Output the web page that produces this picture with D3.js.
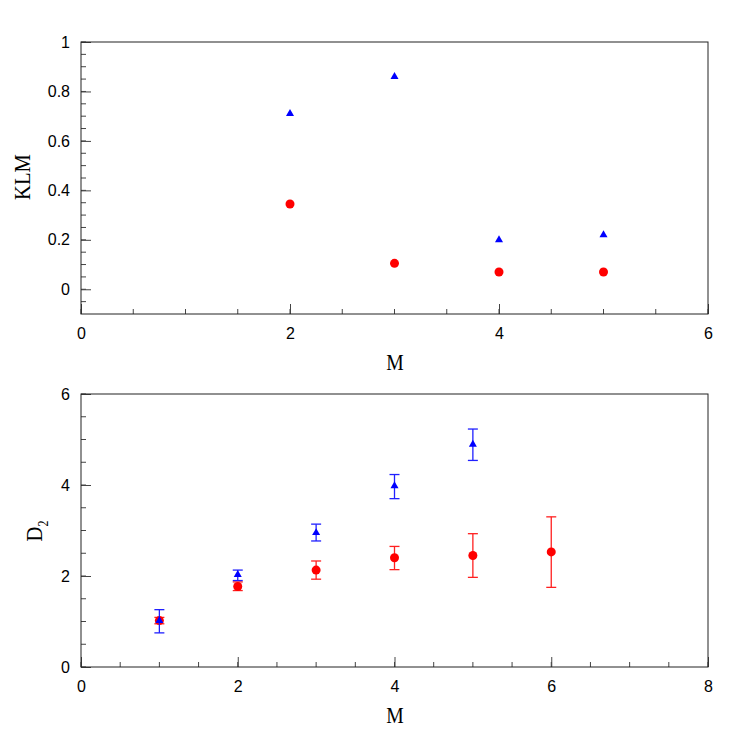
<!DOCTYPE html>
<html lang="en">
<head>
<meta charset="utf-8">
<title>KLM and D2 vs M</title>
<script src="https://d3js.org/d3.v7.min.js"></script>
<style>
  body { margin: 0; background: white; }
  .title { font-family: "Liberation Serif", "Times New Roman", serif; font-size: 24px; fill: #000; }
</style>
</head>
<body>
<div id="chart"></div>
<script>
// top panel: KLM
var klmM = [2, 3, 4, 5];
var klmTri = [0.71, 0.86, 0.20, 0.22];
var klmDot = [0.345, 0.105, 0.07, 0.07];

// bottom panel: D2 with errors
var d2TriM = [1, 2, 3, 4, 5];
var d2Tri = [1.02, 2.03, 2.95, 3.98, 4.89];
var d2TriLo = [0.75, 1.90, 2.77, 3.70, 4.54];
var d2TriHi = [1.26, 2.13, 3.14, 4.23, 5.23];

var d2DotM = [1, 2, 3, 4, 5, 6];
var d2Dot = [1.02, 1.77, 2.13, 2.40, 2.45, 2.53];
var d2DotLo = [0.95, 1.68, 1.93, 2.14, 1.97, 1.75];
var d2DotHi = [1.09, 1.87, 2.33, 2.65, 2.93, 3.30];

var W = 747, H = 747;
var svg = d3.select("#chart").append("svg")
    .attr("width", W).attr("height", H);

function panel(opt) {
    var x = d3.scaleLinear().domain(opt.xd).range([81, 708]);
    var y = d3.scaleLinear().domain(opt.yd).range([opt.bottom, opt.top]);
    var g = svg.append("g");

    // minor ticks
    var xm = d3.range(opt.xd[0], opt.xd[1] + 1e-9, opt.xminor);
    g.selectAll(".xm").data(xm).enter().append("line")
        .attr("x1", d => x(d)).attr("x2", d => x(d))
        .attr("y1", opt.bottom).attr("y2", opt.bottom - 5)
        .attr("stroke", "#444");
    var ym = d3.range(opt.yminStart, opt.yd[1] + 1e-9, opt.yminor);
    g.selectAll(".ym").data(ym).enter().append("line")
        .attr("x1", 81).attr("x2", 86)
        .attr("y1", d => y(d)).attr("y2", d => y(d))
        .attr("stroke", "#444");

    // major ticks + labels via axes
    var xa = d3.axisBottom(x).tickValues(opt.xticks).tickSize(-10).tickPadding(14)
        .tickFormat(d3.format("d"));
    g.append("g").attr("transform", "translate(0," + opt.bottom + ")").call(xa)
        .attr("font-family", "Liberation Sans, Arial, sans-serif").attr("font-size", 16)
        .call(s => s.select(".domain").remove())
        .call(s => s.selectAll(".tick line").attr("stroke", "#444"))
        .call(s => s.selectAll(".tick text").attr("fill", "#000"));
    var ya = d3.axisLeft(y).tickValues(opt.yticks).tickSize(-10).tickPadding(11)
        .tickFormat(d => d3.format("~g")(d));
    g.append("g").attr("transform", "translate(81,0)").call(ya)
        .attr("font-family", "Liberation Sans, Arial, sans-serif").attr("font-size", 16)
        .call(s => s.select(".domain").remove())
        .call(s => s.selectAll(".tick line").attr("stroke", "#444"))
        .call(s => s.selectAll(".tick text").attr("fill", "#000"));

    // frame
    g.append("rect").attr("x", 81).attr("y", opt.top)
        .attr("width", 627).attr("height", opt.bottom - opt.top)
        .attr("fill", "none").attr("stroke", "#222").attr("stroke-width", 1);

    // x title
    g.append("text").attr("class", "title")
        .attr("transform", "translate(395," + (opt.bottom + 56) + ") scale(0.82,1)")
        .attr("text-anchor", "middle").text("M");
    return {g: g, x: x, y: y};
}

var pTop = panel({xd: [0, 6], yd: [-0.1, 1], top: 42, bottom: 314,
    xminor: 0.5, yminor: 0.05, yminStart: -0.05,
    xticks: [0, 2, 4, 6], yticks: [0, 0.2, 0.4, 0.6, 0.8, 1]});
pTop.g.append("text").attr("class", "title")
    .attr("transform", "translate(30,177) rotate(-90) scale(0.86,1)")
    .attr("text-anchor", "middle").text("KLM");

var pBot = panel({xd: [0, 8], yd: [0, 6], top: 394, bottom: 667,
    xminor: 0.5, yminor: 0.5, yminStart: 0,
    xticks: [0, 2, 4, 6, 8], yticks: [0, 2, 4, 6]});
var d2t = pBot.g.append("text").attr("class", "title")
    .attr("transform", "translate(42,531) rotate(-90) scale(0.86,1)")
    .attr("text-anchor", "middle");
d2t.append("tspan").text("D");
d2t.append("tspan").attr("font-size", "14px").attr("dy", 6).text("2");

var tri = d3.symbol().type(d3.symbolTriangle).size(28);

// top markers
pTop.g.selectAll(".t").data(klmM).enter().append("path")
    .attr("d", tri)
    .attr("transform", (d, i) => "translate(" + pTop.x(d) + "," + pTop.y(klmTri[i]) + ")")
    .attr("fill", "#0000ff");
pTop.g.selectAll(".c").data(klmM).enter().append("circle")
    .attr("cx", d => pTop.x(d)).attr("cy", (d, i) => pTop.y(klmDot[i]))
    .attr("r", 4.5).attr("fill", "#ff0000");

// error bars
function errs(p, ms, lo, hi, col) {
    var eg = p.g.append("g").attr("stroke", col).attr("stroke-width", 1.3);
    ms.forEach(function(m, i) {
        var cx = p.x(m);
        eg.append("line").attr("x1", cx).attr("x2", cx)
            .attr("y1", p.y(lo[i])).attr("y2", p.y(hi[i]));
        [lo[i], hi[i]].forEach(function(v) {
            eg.append("line").attr("x1", cx - 5).attr("x2", cx + 5)
                .attr("y1", p.y(v)).attr("y2", p.y(v));
        });
    });
}
errs(pBot, d2DotM, d2DotLo, d2DotHi, "#ff2020");
pBot.g.selectAll(".c").data(d2DotM).enter().append("circle")
    .attr("cx", d => pBot.x(d)).attr("cy", (d, i) => pBot.y(d2Dot[i]))
    .attr("r", 4.5).attr("fill", "#ff0000");
errs(pBot, d2TriM, d2TriLo, d2TriHi, "#2020ff");
pBot.g.selectAll(".t").data(d2TriM).enter().append("path")
    .attr("d", tri)
    .attr("transform", (d, i) => "translate(" + pBot.x(d) + "," + pBot.y(d2Tri[i]) + ")")
    .attr("fill", "#0000ff");
</script>
</body>
</html>
